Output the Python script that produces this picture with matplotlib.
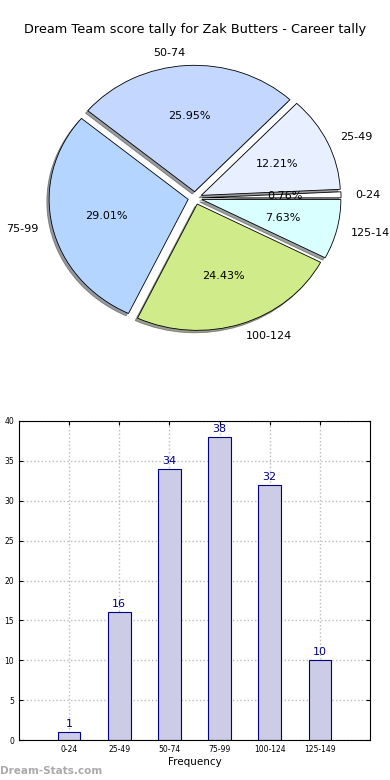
import matplotlib.pyplot as plt
import numpy as np

# score bands and how many games fell in each
bands = ['0-24', '25-49', '50-74', '75-99', '100-124', '125-149']
counts = [1, 16, 34, 38, 32, 10]
pie_colors = ['#ffffff', '#e8efff', '#c4d8ff', '#b4d5ff', '#d0eb8a', '#d9ffff']

fig = plt.figure(figsize=(3.9, 7.8), dpi=100)

# pie (top)
ax1 = fig.add_axes([42/390, 1 - 337/780, 306/390, 278/780])
ax1.pie(counts, labels=bands, colors=pie_colors, explode=[0.05]*len(counts),
        autopct='%1.2f%%', shadow={'ox': -0.012, 'oy': -0.014, 'shade': 0.75},
        startangle=0,
        wedgeprops={'edgecolor': 'black', 'linewidth': 0.6},
        textprops={'fontsize': 8})
ax1.set_aspect('auto')
ax1.set_xlim(-1.1, 1.1)
ax1.set_ylim(-1.1, 1.1)
fig.text(0.5, 1 - 30/780, 'Dream Team score tally for Zak Butters - Career tally',
         ha='center', va='center', fontsize=9.3)

# bar chart (bottom)
ax2 = fig.add_axes([19/390, 40/780, 351/390, 319/780])
x = np.arange(len(bands))
bars = ax2.bar(x, counts, width=0.45, color='#ccccE6', edgecolor='navy', linewidth=0.8, zorder=2)
for b, c in zip(bars, counts):
    ax2.text(b.get_x() + b.get_width()/2, c + 0.4, str(c), ha='center', va='bottom',
             color='navy', fontsize=8)
ax2.set_xlim(-1, 6)
ax2.set_ylim(0, 40)
ax2.set_yticks(range(0, 41, 5))
ax2.set_xticks(x)
ax2.set_xticklabels(bands)
ax2.tick_params(labelsize=5.5, direction='in', length=3, top=True, right=True)
ax2.grid(True, linestyle=':', color='#bbbbbb', linewidth=1.0, zorder=0)
ax2.set_axisbelow(True)
ax2.set_xlabel('Frequency', fontsize=7.5, labelpad=2)

fig.text(0.0, 1 - 771/780, 'Dream-Stats.com', fontsize=7.5, color='#aaaaaa',
         fontweight='bold', ha='left', va='center')

plt.savefig('out.png', dpi=100)
